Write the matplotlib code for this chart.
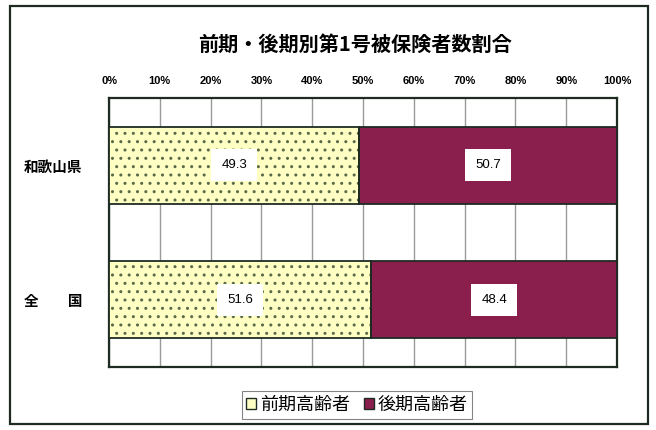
import matplotlib
matplotlib.use("Agg")
import matplotlib.pyplot as plt
from matplotlib.patches import Rectangle, Patch

plt.rcParams['font.family'] = ['Noto Sans CJK JP', 'DejaVu Sans']
plt.rcParams['hatch.linewidth'] = 1.0

title = "前期・後期別第1号被保険者数割合"
categories = ["和歌山県", "全　　国"]
early = [49.3, 51.6]
late = [50.7, 48.4]
series_names = ["前期高齢者", "後期高齢者"]
ticks = [0, 10, 20, 30, 40, 50, 60, 70, 80, 90, 100]
tick_labels = [f"{t}%" for t in ticks]

c_early = "#FFFFC4"
c_late = "#8A1E4C"
c_edge = "#1E2B22"
c_dot = "#5A6A48"

fig = plt.figure(figsize=(6.56, 4.30), dpi=100)
fig.patch.set_facecolor("white")
fig.add_artist(Rectangle((10/656, 1 - 424/430), 638/656, 418/430, transform=fig.transFigure,
                         fill=False, edgecolor=c_edge, linewidth=1.6))

ax = fig.add_axes([109/656, 1 - 367/430, 508/656, 269/430])
y = [0, 1]
h = 0.57
ax.barh(y, early, height=h, color=c_early, edgecolor=c_dot, hatch='..', linewidth=0, zorder=3)
ax.barh(y, early, height=h, fill=False, edgecolor=c_edge, linewidth=1.3, zorder=4)
ax.barh(y, late, left=early, height=h, color=c_late, edgecolor=c_edge, linewidth=1.3, zorder=3)

for i in range(len(categories)):
    for xc, v in ((early[i] / 2, early[i]), (early[i] + late[i] / 2, late[i])):
        ax.text(xc, y[i], f"{v:.1f}", ha='center', va='center', fontsize=9.5, zorder=5,
                family=['Liberation Sans', 'DejaVu Sans'],
                bbox=dict(facecolor='white', edgecolor='none', boxstyle='square,pad=0.75'))

ax.set_xlim(0, 100)
ax.set_ylim(1.5, -0.5)
ax.xaxis.tick_top()
ax.set_xticks(ticks)
ax.set_xticklabels(tick_labels, fontsize=8, fontweight='bold', family=['Liberation Sans', 'DejaVu Sans'])
ax.tick_params(axis='x', length=0, pad=9)
ax.set_yticks(y)
ax.set_yticklabels(categories, fontsize=10.5, fontweight='bold')
ax.tick_params(axis='y', length=0, pad=19)
ax.grid(axis='x', color='#9A9A9A', linewidth=1.0, zorder=1)
for s in ax.spines.values():
    s.set_color(c_edge)
    s.set_linewidth(1.6)

fig.text(355/656, 1 - 44/430, title, ha='center', va='center', fontsize=14.5, fontweight='bold')

handles = [Patch(facecolor=c_early, edgecolor=c_edge), Patch(facecolor=c_late, edgecolor=c_edge)]
leg = fig.legend(handles, series_names, loc='center', bbox_to_anchor=(357/656, 1 - 405/430),
                 ncol=2, frameon=True, fancybox=False, fontsize=13, handlelength=0.55, handleheight=0.55,
                 handletextpad=0.2, columnspacing=0.8, borderpad=0.25)
leg.get_frame().set_edgecolor('#666666')
leg.get_frame().set_linewidth(0.8)

fig.savefig("out.png", dpi=100)
